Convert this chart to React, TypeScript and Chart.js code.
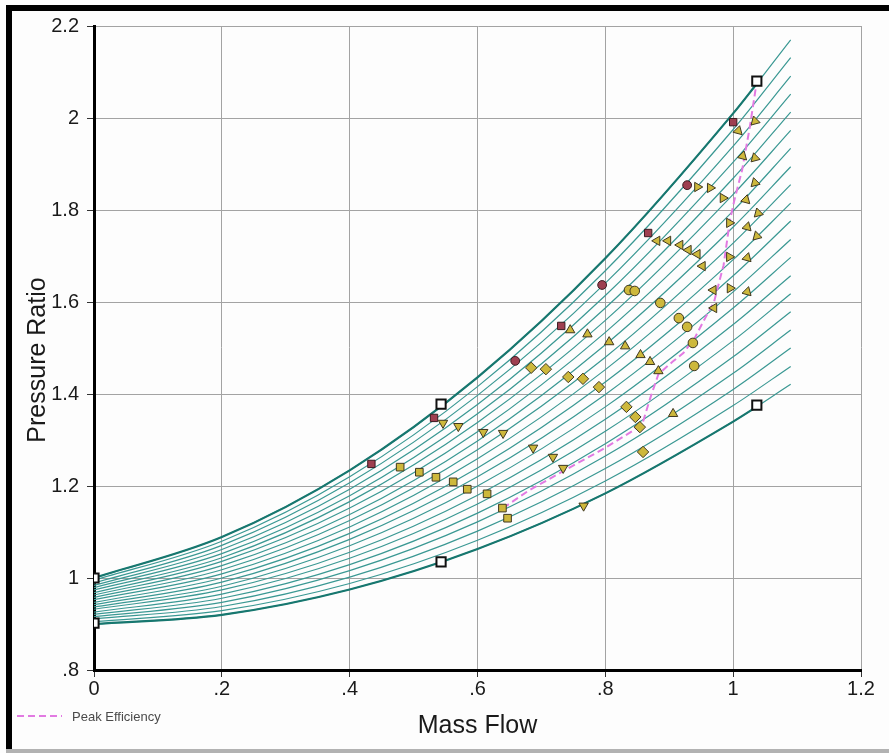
import React, { useEffect, useRef } from 'react';
import { Chart, registerables } from 'chart.js';

Chart.register(...registerables);

// Axis ticks and their printed labels
const X_TICKS = [0, 0.2, 0.4, 0.6, 0.8, 1.0, 1.2];
const X_TICK_LABELS = ['0', '.2', '.4', '.6', '.8', '1', '1.2'];
const Y_TICKS = [0.8, 1.0, 1.2, 1.4, 1.6, 1.8, 2.0, 2.2];
const Y_TICK_LABELS = ['.8', '1', '1.2', '1.4', '1.6', '1.8', '2', '2.2'];

const X_TITLE = 'Mass Flow';
const Y_TITLE = 'Pressure Ratio';
const LEGEND_LABEL = 'Peak Efficiency';

// Corrected speed lines: mass flow stations and pressure ratio along each line
const SPEED_X = [0, 0.2, 0.4, 0.6, 0.8, 1.0, 1.09];
const SPEED_LINES = [
  [1.000, 1.089, 1.234, 1.436, 1.695, 2.010, 2.170],
  [0.995, 1.080, 1.220, 1.416, 1.668, 1.975, 2.131],
  [0.989, 1.071, 1.207, 1.397, 1.641, 1.939, 2.091],
  [0.984, 1.062, 1.193, 1.377, 1.614, 1.904, 2.052],
  [0.979, 1.053, 1.179, 1.357, 1.587, 1.869, 2.013],
  [0.974, 1.044, 1.166, 1.338, 1.560, 1.834, 1.973],
  [0.968, 1.036, 1.152, 1.318, 1.534, 1.798, 1.934],
  [0.963, 1.027, 1.138, 1.298, 1.507, 1.763, 1.894],
  [0.958, 1.018, 1.125, 1.279, 1.480, 1.728, 1.855],
  [0.953, 1.009, 1.111, 1.259, 1.453, 1.692, 1.815],
  [0.947, 1.000, 1.097, 1.239, 1.426, 1.657, 1.776],
  [0.942, 0.991, 1.084, 1.220, 1.399, 1.622, 1.736],
  [0.937, 0.982, 1.070, 1.200, 1.372, 1.587, 1.697],
  [0.932, 0.974, 1.056, 1.180, 1.345, 1.551, 1.657],
  [0.926, 0.965, 1.043, 1.161, 1.319, 1.516, 1.618],
  [0.921, 0.956, 1.029, 1.141, 1.292, 1.481, 1.579],
  [0.916, 0.947, 1.016, 1.122, 1.265, 1.445, 1.539],
  [0.911, 0.938, 1.002, 1.102, 1.238, 1.410, 1.500],
  [0.905, 0.929, 0.988, 1.082, 1.211, 1.375, 1.460],
  [0.900, 0.920, 0.975, 1.063, 1.184, 1.340, 1.421],
];

// Map boundaries (surge line on top, lowest line underneath)
const BOUND_X = [0, 0.2, 0.4, 0.6, 0.8, 1.0, 1.04];
const SURGE_Y = [1.000, 1.089, 1.234, 1.436, 1.695, 2.010, 2.080];
const LOW_Y = [0.900, 0.920, 0.975, 1.063, 1.184, 1.340, 1.375];

// Corner markers of the map boundary
const CORNER_X = [0, 0, 0.543, 0.543, 1.037, 1.037];
const CORNER_Y = [1.000, 0.902, 1.378, 1.035, 2.080, 1.376];

// Measured operating points, one group per speed; first point of a group sits on surge
const A_X = [0.434, 0.479, 0.509, 0.535, 0.562, 0.584, 0.615, 0.639, 0.647];
const A_Y = [1.248, 1.241, 1.230, 1.219, 1.209, 1.193, 1.183, 1.152, 1.130];
const B_X = [0.532, 0.546, 0.570, 0.609, 0.640, 0.687, 0.718, 0.734, 0.766];
const B_Y = [1.348, 1.337, 1.330, 1.317, 1.315, 1.283, 1.263, 1.239, 1.157];
const C_X = [0.659, 0.684, 0.707, 0.742, 0.765, 0.790, 0.833, 0.847, 0.854, 0.859];
const C_Y = [1.472, 1.457, 1.454, 1.437, 1.433, 1.415, 1.372, 1.350, 1.328, 1.274];
const D_X = [0.731, 0.745, 0.772, 0.806, 0.831, 0.855, 0.870, 0.883, 0.906];
const D_Y = [1.548, 1.539, 1.530, 1.513, 1.504, 1.485, 1.470, 1.450, 1.357];
const E_X = [0.795, 0.837, 0.846, 0.886, 0.915, 0.928, 0.937, 0.939];
const E_Y = [1.637, 1.626, 1.624, 1.598, 1.565, 1.546, 1.511, 1.461];
const F_X = [0.867, 0.881, 0.898, 0.917, 0.930, 0.944, 0.952, 0.969, 0.970];
const F_Y = [1.750, 1.733, 1.733, 1.724, 1.713, 1.704, 1.678, 1.626, 1.587];
const G_X = [0.928, 0.944, 0.964, 0.984, 0.994, 0.994, 0.995];
const G_Y = [1.854, 1.850, 1.848, 1.826, 1.772, 1.698, 1.630];
const H_X = [1.000, 1.008, 1.015, 1.020, 1.022, 1.022, 1.022];
const H_Y = [1.991, 1.972, 1.917, 1.822, 1.763, 1.696, 1.622];
const I_X = [1.034, 1.034, 1.034, 1.039, 1.037];
const I_Y = [1.993, 1.913, 1.859, 1.793, 1.743];

// Peak efficiency line
const PEAK_X = [0.640, 0.680, 0.740, 0.800, 0.843, 0.859, 0.870, 0.883, 0.905, 0.922,
  0.940, 0.955, 0.970, 0.985, 0.995, 1.002, 1.014, 1.026, 1.037];
const PEAK_Y = [1.152, 1.190, 1.237, 1.283, 1.320, 1.340, 1.390, 1.443, 1.470, 1.489,
  1.522, 1.562, 1.600, 1.680, 1.778, 1.822, 1.887, 1.980, 2.080];

const FONT = '"Liberation Sans", Arial, sans-serif';
const TEXT = '#1a1a1a';
const TEAL_THIN = '#3a9893';
const TEAL_THICK = '#17776f';
const PINK = '#e27ae2';
const OLIVE = '#cdb83c';
const OLIVE_EDGE = '#3f3820';
const RED = '#9e3f50';
const RED_EDGE = '#3a1a20';

const pts = (xs: number[], ys: number[]) => xs.map((x, i) => ({ x, y: ys[i] }));

type Group = {
  xs: number[]; ys: number[]; style: string; rot: number; r: number; surge: string | null;
};

const GROUPS: Group[] = [
  { xs: A_X, ys: A_Y, style: 'rect', rot: 0, r: 5.4, surge: 'rect' },
  { xs: B_X, ys: B_Y, style: 'triangle', rot: 180, r: 5.4, surge: 'rect' },
  { xs: C_X, ys: C_Y, style: 'rectRot', rot: 0, r: 5.7, surge: 'circle' },
  { xs: D_X, ys: D_Y, style: 'triangle', rot: 0, r: 5.4, surge: 'rect' },
  { xs: E_X, ys: E_Y, style: 'circle', rot: 0, r: 4.8, surge: 'circle' },
  { xs: F_X, ys: F_Y, style: 'triangle', rot: 270, r: 5.4, surge: 'rect' },
  { xs: G_X, ys: G_Y, style: 'triangle', rot: 90, r: 5.4, surge: 'circle' },
  { xs: H_X, ys: H_Y, style: 'triangle', rot: 135, r: 5.4, surge: 'rect' },
  { xs: I_X, ys: I_Y, style: 'triangle', rot: 225, r: 5.4, surge: null },
];

// Legend entry and the rotated y title, drawn on the canvas
const annotatePlugin = {
  id: 'annotate',
  afterDraw(chart: any) {
    const ctx = chart.ctx;
    ctx.save();
    ctx.strokeStyle = PINK;
    ctx.lineWidth = 2;
    ctx.setLineDash([7, 4]);
    ctx.beginPath();
    ctx.moveTo(17, 716);
    ctx.lineTo(62, 716);
    ctx.stroke();
    ctx.setLineDash([]);
    ctx.fillStyle = '#4a4a4a';
    ctx.font = `13px ${FONT}`;
    ctx.textBaseline = 'middle';
    ctx.textAlign = 'left';
    ctx.fillText(LEGEND_LABEL, 72, 717);

    ctx.translate(38, 360);
    ctx.rotate(-Math.PI / 2);
    ctx.fillStyle = TEXT;
    ctx.font = `25px ${FONT}`;
    ctx.textAlign = 'center';
    ctx.fillText(Y_TITLE, 0, 0);
    ctx.restore();
  },
};

export default function App() {
  const ref = useRef<HTMLCanvasElement | null>(null);

  useEffect(() => {
    if (!ref.current) return;
    const datasets: any[] = [];

    SPEED_LINES.forEach((ys, i) => {
      datasets.push({
        label: `speed ${i + 1}`,
        data: pts(SPEED_X, ys),
        showLine: true,
        borderColor: TEAL_THIN,
        borderWidth: 1.2,
        pointRadius: 0,
        cubicInterpolationMode: 'monotone',
        order: 4,
      });
    });

    [SURGE_Y, LOW_Y].forEach((ys, i) => {
      datasets.push({
        label: i === 0 ? 'surge' : 'low',
        data: pts(BOUND_X, ys),
        showLine: true,
        borderColor: TEAL_THICK,
        borderWidth: 2.2,
        pointRadius: 0,
        cubicInterpolationMode: 'monotone',
        order: 3,
      });
    });

    datasets.push({
      label: LEGEND_LABEL,
      data: pts(PEAK_X, PEAK_Y),
      showLine: true,
      borderColor: PINK,
      borderWidth: 2,
      borderDash: [7, 4],
      pointRadius: 0,
      tension: 0,
      order: 2,
    });

    datasets.push({
      label: 'corners',
      data: pts(CORNER_X, CORNER_Y),
      showLine: false,
      pointStyle: 'rect',
      pointRadius: 6.5,
      pointBackgroundColor: '#ffffff',
      pointBorderColor: '#111111',
      pointBorderWidth: 2,
      order: 0,
    });

    GROUPS.forEach((g, gi) => {
      const isSurge = (c: any) => g.surge !== null && c.dataIndex === 0;
      datasets.push({
        label: `points ${gi + 1}`,
        data: pts(g.xs, g.ys),
        showLine: false,
        pointStyle: (c: any) => (isSurge(c) ? g.surge : g.style),
        pointRotation: (c: any) => (isSurge(c) ? 0 : g.rot),
        pointRadius: (c: any) => (isSurge(c) ? (g.surge === 'rect' ? 5.2 : 4.4) : g.r),
        pointBackgroundColor: (c: any) => (isSurge(c) ? RED : OLIVE),
        pointBorderColor: (c: any) => (isSurge(c) ? RED_EDGE : OLIVE_EDGE),
        pointBorderWidth: 1,
        order: 1,
      });
    });

    const chart = new Chart(ref.current, {
      type: 'scatter',
      data: { datasets },
      options: {
        responsive: false,
        animation: false,
        layout: { padding: { top: 26, right: 28, bottom: 0, left: 0 } },
        plugins: { legend: { display: false }, tooltip: { enabled: false } },
        scales: {
          x: {
            type: 'linear',
            min: 0,
            max: 1.2,
            afterBuildTicks: (s: any) => { s.ticks = X_TICKS.map((v) => ({ value: v })); },
            afterFit: (s: any) => { s.height = 83; },
            ticks: {
              color: TEXT,
              font: { family: FONT, size: 20 },
              padding: 0,
              maxRotation: 0,
              autoSkip: false,
              callback: (v: any) => {
                const i = X_TICKS.findIndex((t) => Math.abs(t - Number(v)) < 1e-6);
                return i >= 0 ? X_TICK_LABELS[i] : '';
              },
            },
            grid: { color: '#a3a3a3', lineWidth: 1, tickLength: 7, tickColor: '#333' },
            border: { color: '#000', width: 3 },
            title: {
              display: true,
              text: X_TITLE,
              color: TEXT,
              font: { family: FONT, size: 25 },
              padding: { top: 0, bottom: 12 },
            },
          },
          y: {
            type: 'linear',
            min: 0.8,
            max: 2.2,
            afterBuildTicks: (s: any) => { s.ticks = Y_TICKS.map((v) => ({ value: v })); },
            afterFit: (s: any) => { s.width = 94; },
            ticks: {
              color: TEXT,
              font: { family: FONT, size: 20 },
              padding: 8,
              autoSkip: false,
              callback: (v: any) => {
                const i = Y_TICKS.findIndex((t) => Math.abs(t - Number(v)) < 1e-6);
                return i >= 0 ? Y_TICK_LABELS[i] : '';
              },
            },
            grid: { color: '#a3a3a3', lineWidth: 1, tickLength: 7, tickColor: '#333' },
            border: { color: '#000', width: 3 },
          },
        },
      },
      plugins: [annotatePlugin],
    });

    return () => chart.destroy();
  }, []);

  return (
    <div style={{ position: 'absolute', left: 0, top: 0, width: 889, height: 753, background: '#fdfdfd', overflow: 'hidden' }}>
      <div style={{ position: 'absolute', left: 6, top: 5, width: 883, height: 6, background: '#000' }} />
      <div style={{ position: 'absolute', left: 6, top: 5, width: 6, height: 744, background: '#000' }} />
      <div style={{ position: 'absolute', left: 6, top: 749, width: 883, height: 4, background: '#b2b2b2' }} />
      <canvas ref={ref} width={889} height={753} style={{ position: 'absolute', left: 0, top: 0, width: 889, height: 753 }} />
    </div>
  );
}
